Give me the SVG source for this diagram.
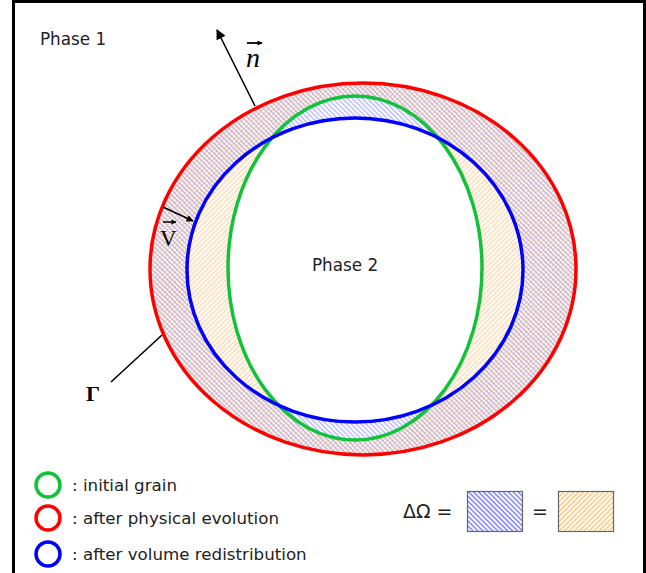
<svg xmlns="http://www.w3.org/2000/svg" width="646" height="573" viewBox="0 0 646 573">
<style>
.txt{font-family:"DejaVu Sans","Liberation Sans",sans-serif;fill:#222}
.curve{fill:none;stroke-width:3.5}
.conn{fill:none;stroke:#000;stroke-width:1.6}
</style>
<defs>
<pattern id="hb" width="3.5" height="3.5" patternUnits="userSpaceOnUse" patternTransform="rotate(-45)">
<line x1="1" y1="0" x2="1" y2="3.5" stroke="#4a4aff" stroke-width="1" stroke-opacity="0.55"/>
</pattern>
<pattern id="ho" width="3.5" height="3.5" patternUnits="userSpaceOnUse" patternTransform="rotate(45)">
<line x1="1" y1="0" x2="1" y2="3.5" stroke="#ff9a2a" stroke-width="1" stroke-opacity="0.55"/>
</pattern>
<pattern id="hbL" width="3.5" height="3.5" patternUnits="userSpaceOnUse" patternTransform="rotate(-45)">
<line x1="1" y1="0" x2="1" y2="3.5" stroke="#3030ff" stroke-width="1" stroke-opacity="0.9"/>
</pattern>
<pattern id="hoL" width="3.5" height="3.5" patternUnits="userSpaceOnUse" patternTransform="rotate(45)">
<line x1="1" y1="0" x2="1" y2="3.5" stroke="#ffa020" stroke-width="1" stroke-opacity="0.9"/>
</pattern>
<marker id="ahBig" viewBox="0 0 10 10" refX="9" refY="5" markerWidth="14" markerHeight="10" markerUnits="userSpaceOnUse" orient="auto">
<path d="M0,0 L10,5 L0,10 Z" fill="#000"/>
</marker>
<marker id="ahMid" viewBox="0 0 10 10" refX="9" refY="5" markerWidth="9" markerHeight="7" markerUnits="userSpaceOnUse" orient="auto">
<path d="M0,0 L10,5 L0,10 Z" fill="#000"/>
</marker>
<marker id="ahSmall" viewBox="0 0 10 10" refX="9" refY="5" markerWidth="6" markerHeight="5" markerUnits="userSpaceOnUse" orient="auto">
<path d="M0,0 L10,5 L0,10 Z" fill="#000"/>
</marker>
</defs>
<rect x="0" y="0" width="646" height="573" fill="#fff"/>
<rect id="frame" x="13.5" y="1.5" width="631" height="600" fill="none" stroke="#000" stroke-width="3"/>

<g id="regions">
<path id="hatch-blue" fill="url(#hb)" fill-rule="evenodd" d="M150,269 a213,186 0 1,0 426,0 a213,186 0 1,0 -426,0Z M187,270 a168,152 0 1,0 336,0 a168,152 0 1,0 -336,0Z"/>
<path id="hatch-orange" fill="url(#ho)" fill-rule="evenodd" d="M150,269 a213,186 0 1,0 426,0 a213,186 0 1,0 -426,0Z M228,268 a127,172 0 1,0 254,0 a127,172 0 1,0 -254,0Z"/>
</g>

<g id="initial-grain"><ellipse class="curve" cx="355" cy="268" rx="127" ry="172" stroke="#11c23a"/></g>
<g id="after-redistribution"><ellipse class="curve" cx="355" cy="270" rx="168" ry="152" stroke="#0000ff"/></g>
<g id="after-evolution"><ellipse class="curve" cx="363" cy="269" rx="213" ry="186" stroke="#ff0000"/></g>

<g id="connectors">
<line class="conn" x1="255" y1="106" x2="217" y2="30" marker-end="url(#ahBig)"/>
<line class="conn" x1="163" y1="207" x2="193" y2="221" marker-end="url(#ahMid)"/>
<line class="conn" x1="162" y1="335" x2="111" y2="382"/>
</g>

<g id="labels">
<text class="txt" x="40" y="45" font-size="16.8">Phase 1</text>
<text class="txt" x="312" y="271" font-size="16.8">Phase 2</text>
<g id="label-n">
<text x="246" y="67" font-family="Liberation Serif,serif" font-style="italic" font-size="28" fill="#000">n</text>
<line x1="247" y1="43" x2="262" y2="43" stroke="#000" stroke-width="1.8" marker-end="url(#ahSmall)"/>
</g>
<g id="label-v">
<text x="160" y="246" font-family="Liberation Serif,serif" font-size="23" fill="#000">V</text>
<line x1="163" y1="222" x2="176" y2="222" stroke="#000" stroke-width="1.5" marker-end="url(#ahSmall)"/>
</g>
<text x="86" y="401" font-family="Liberation Serif,serif" font-weight="bold" font-size="22" fill="#000">Γ</text>
</g>

<g id="legend">
<circle cx="48" cy="485" r="12" fill="none" stroke="#11c23a" stroke-width="3.5"/>
<circle cx="48" cy="518" r="12" fill="none" stroke="#ff0000" stroke-width="3.5"/>
<circle cx="48" cy="554" r="12" fill="none" stroke="#0000ff" stroke-width="3.5"/>
<text class="txt" x="72" y="491" font-size="16.7">: initial grain</text>
<text class="txt" x="72" y="524" font-size="16.7">: after physical evolution</text>
<text class="txt" x="72" y="560" font-size="16.7">: after volume redistribution</text>
<text class="txt" x="403" y="518" font-size="19">ΔΩ =</text>
<rect x="467.5" y="491.5" width="55" height="40" fill="url(#hbL)" stroke="#666" stroke-width="1.2"/>
<text class="txt" x="532" y="518" font-size="19">=</text>
<rect x="558.5" y="491.5" width="55" height="40" fill="url(#hoL)" stroke="#666" stroke-width="1.2"/>
</g>
</svg>
